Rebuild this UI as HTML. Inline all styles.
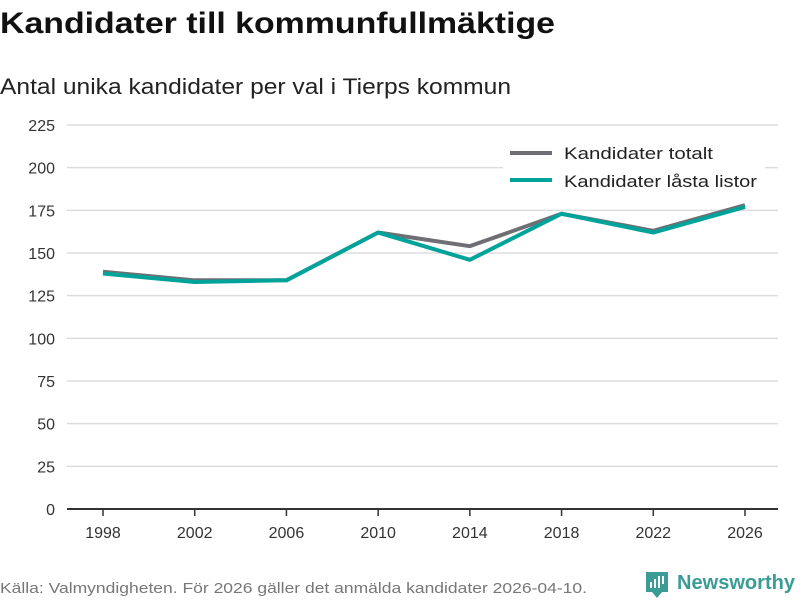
<!DOCTYPE html>
<html><head><meta charset="utf-8"><style>
body{margin:0;width:800px;height:600px;background:#fff;overflow:hidden;font-family:"Liberation Sans",sans-serif;}
svg text{font-family:"Liberation Sans",sans-serif;}
</style></head><body>
<svg id="chart" width="800" height="600" xmlns="http://www.w3.org/2000/svg">
<text x="0" y="33" font-size="30" font-weight="bold" fill="#111" textLength="555" lengthAdjust="spacingAndGlyphs">Kandidater till kommunfullmäktige</text>
<text x="0" y="94" font-size="22" fill="#222" textLength="511" lengthAdjust="spacingAndGlyphs">Antal unika kandidater per val i Tierps kommun</text>
<g id="grid"></g><g id="lines"></g>
<g>
<rect x="503" y="140" width="262" height="56" fill="#fff"/>
<line x1="510" y1="153" x2="552" y2="153" stroke="#6f6e74" stroke-width="4"/>
<text x="564" y="159" font-size="17" fill="#222" textLength="149" lengthAdjust="spacingAndGlyphs">Kandidater totalt</text>
<line x1="510" y1="180" x2="552" y2="180" stroke="#00a39a" stroke-width="4"/>
<text x="564" y="187" font-size="17" fill="#222" textLength="193" lengthAdjust="spacingAndGlyphs">Kandidater låsta listor</text>
</g>
<text x="0" y="593" font-size="15" fill="#777" textLength="587" lengthAdjust="spacingAndGlyphs">Källa: Valmyndigheten. För 2026 gäller det anmälda kandidater 2026-04-10.</text>
<g>
<path d="M646 572h22v20h-6l-5 6l-5-6h-6z" fill="#3a9c95"/>
<rect x="650" y="582" width="2" height="6" fill="#fff"/><rect x="654" y="579" width="2" height="9" fill="#fff"/><rect x="658" y="576" width="2" height="12" fill="#fff"/><rect x="662" y="576" width="2" height="8" fill="#fff"/>
<text x="677" y="589" font-size="20" font-weight="bold" fill="#3a9c95" textLength="118" lengthAdjust="spacingAndGlyphs">Newsworthy</text>
</g>
</svg>
<script>
const years=[1998,2002,2006,2010,2014,2018,2022,2026];
const totalt=[139,134,134,162,154,173,163,178];
const lasta=[138,133,134,162,146,173,162,177];
const yTicks=[0,25,50,75,100,125,150,175,200,225];
const NS="http://www.w3.org/2000/svg";
const x=v=>103+(v-1998)/28*642;
const y=v=>509-v/225*384;
const grid=document.getElementById('grid');
function mk(t,a,p){const e=document.createElementNS(NS,t);for(const k in a)e.setAttribute(k,a[k]);p.appendChild(e);return e;}
yTicks.forEach(t=>{
 const l=mk('line',{x1:67,x2:778,y1:y(t),y2:y(t),stroke:t===0?'#333':'#ddd','stroke-width':t===0?2:1.5},grid);
 
 
 const tx=mk('text',{x:55,y:y(t)+6,'text-anchor':'end','font-size':16,fill:'#333'},grid);tx.textContent=t;
 
 
});
years.forEach(v=>{
 const tk=mk('line',{x1:x(v),x2:x(v),y1:509,y2:516,stroke:'#333','stroke-width':1.5},grid);
 
 
 const tx=mk('text',{x:x(v),y:538,'text-anchor':'middle','font-size':16,fill:'#333'},grid);tx.textContent=v;
 
 
});
const lines=document.getElementById('lines');
[[totalt,'#6f6e74','line-totalt'],[lasta,'#00a39a','line-lasta']].forEach(([d,c,n])=>{
 const p=mk('polyline',{points:d.map((v,i)=>x(years[i])+','+y(v)).join(' '),fill:'none',stroke:c,'stroke-width':4,'stroke-linejoin':'round'},lines);
 
 
});
</script>
</body></html>
